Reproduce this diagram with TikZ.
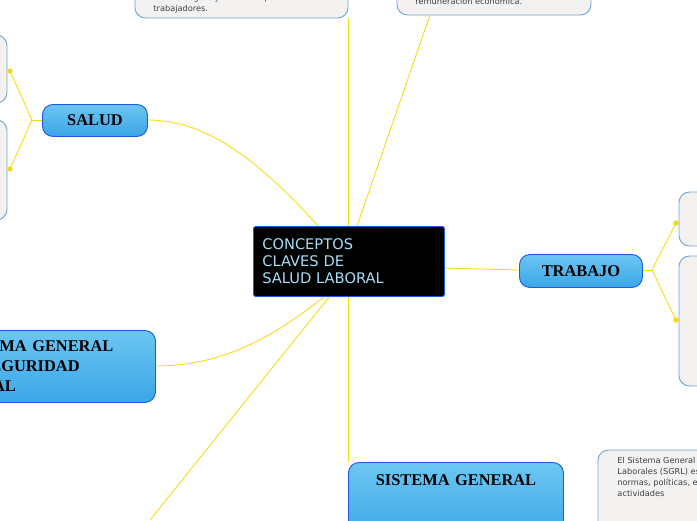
\documentclass[tikz,border=0pt]{standalone}
\usepackage{fontspec}
\setmainfont{Liberation Serif}
\newfontfamily\centerfont{DejaVu Sans}
\newfontfamily\notefont{DejaVu Sans}
\usetikzlibrary{positioning}
\definecolor{linkyellow}{HTML}{F5D90A}
\definecolor{topicblue}{HTML}{3AA6E6}
\definecolor{topictop}{HTML}{6CC6F2}
\definecolor{topicedge}{HTML}{1E5BE0}
\definecolor{notefill}{HTML}{F4F1F1}
\definecolor{noteedge}{HTML}{6FA6D6}
\tikzset{
  topic/.style={draw=topicedge,line width=0.8pt,rounded corners=9pt,
    top color=topictop,bottom color=topicblue,font=\fontsize{14}{17}\selectfont\bfseries,align=left},
  note/.style={draw=noteedge,line width=0.8pt,rounded corners=9pt,fill=notefill,
    font=\notefont\fontsize{7}{9.4}\selectfont,text=black!75,align=left},
  link/.style={linkyellow,line width=0.7pt},
  dot/.style={circle,fill=linkyellow,inner sep=1.6pt}
}
\begin{document}
\begin{tikzpicture}[x=0.03cm,y=-0.03cm]
    \useasboundingbox (0,0) rectangle (697,520);
    \clip (0,0) rectangle (697,520);

    % notes
    \draw[note] (-30,35) rectangle (7,103);
    \draw[note] (-30,120) rectangle (7,220);
    \draw[note] (679,192) rectangle (730,246);
    \draw[note] (679,256) rectangle (730,386);
    \draw[note] (135,-40) rectangle (348,18);
    \draw[note] (397,-40) rectangle (591,15);
    \draw[note] (598,450) rectangle (740,560);
    \node[note,draw=none,fill=none,anchor=north west,inner sep=0pt] (notetl) at (153,-6)
      {laboral seguro y saludable para los\\trabajadores.};
    \node[note,draw=none,fill=none,anchor=north west,inner sep=0pt] (notetr) at (415,-3)
      {remuneración económica.};
    \node[note,draw=none,fill=none,anchor=north west,inner sep=0pt] (notebr) at (617,457)
      {El Sistema General de Riesgos\\Laborales (SGRL) es el conjunto de\\normas, políticas, entidades y\\actividades};

    % connectors from the centre
    \draw[link] (320,228) .. controls (250,150) and (200,120) .. (147,120);
    \draw[link] (348,226) -- (348,18);
    \draw[link] (357,226) -- (430,15);
    \draw[link] (444,268) -- (519,270);
    \draw[link] (325,296) .. controls (270,340) and (220,366) .. (155,366);
    \draw[link] (348,296) -- (348,462);
    \draw[link] (330,296) -- (150,520);

    % salud branch
    \draw[link] (42,120) -- (32,120);
    \draw[link] (32,120) -- (10,71) -- (7,71);
    \draw[link] (32,120) -- (10,169) -- (7,169);
    \node[dot] (sd1) at (10,71) {};
    \node[dot] (sd2) at (10,169) {};

    % trabajo branch
    \draw[link] (642,270) -- (652,270);
    \draw[link] (652,270) -- (676,223) -- (679,223);
    \draw[link] (652,270) -- (676,320) -- (679,320);
    \node[dot] (tr1) at (676,223) {};
    \node[dot] (tr2) at (676,320) {};

    % centre
    \node[draw=topicedge,fill=black,line width=0.8pt,rounded corners=2pt,
      text=topictop!60!white,font=\centerfont\fontsize{12.5}{14.5}\selectfont,align=left,anchor=north west,
      minimum width=5.73cm,minimum height=2.1cm,text width=5.2cm] (centre) at (253,226)
      {CONCEPTOS\\CLAVES DE\\SALUD LABORAL};

    % topics
    \node[topic,anchor=north west,minimum width=3.15cm,minimum height=0.96cm,align=center] (salud) at (42,104) {SALUD};
    \node[topic,anchor=north west,minimum width=3.69cm,minimum height=0.99cm,align=center] (trabajo) at (519,254) {TRABAJO};
    \node[topic,anchor=north west,minimum width=6.45cm,minimum height=2.16cm,text width=5.7cm] (sgss) at (-60,330)
      {SISTEMA GENERAL\\DE SEGURIDAD\\SOCIAL};
    \node[topic,anchor=north west,minimum width=6.45cm,minimum height=2.4cm,align=center,
      text width=6cm] (sgrl) at (348,462) {SISTEMA GENERAL\\\strut\\\strut};
\end{tikzpicture}
\end{document}
